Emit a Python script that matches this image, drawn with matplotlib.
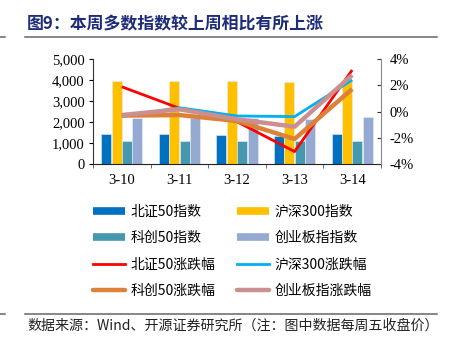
import matplotlib
matplotlib.use("Agg")
import matplotlib.pyplot as plt
from matplotlib.lines import Line2D
import numpy as np

plt.rcParams['font.family'] = ['Noto Sans CJK SC', 'DejaVu Sans']

dates = ['3-10', '3-11', '3-12', '3-13', '3-14']
bz50_idx = [1414, 1414, 1400, 1350, 1410]
hs300_idx = [3965, 3965, 3945, 3930, 4000]
kc50_idx = [1095, 1095, 1090, 1085, 1095]
cyb_idx = [2200, 2185, 2175, 2170, 2230]

bz50_chg = [1.9, 0.26, -0.77, -3.05, 3.18]
hs300_chg = [-0.38, 0.30, -0.33, -0.38, 2.42]
kc50_chg = [-0.30, -0.26, -0.71, -2.09, 1.73]
cyb_chg = [-0.26, 0.18, -0.58, -1.15, 2.80]

bar_names = ['北证50指数', '沪深300指数', '科创50指数', '创业板指指数']
line_names = ['北证50涨跌幅', '沪深300涨跌幅', '科创50涨跌幅', '创业板指涨跌幅']
bar_colors = ['#0070C0', '#FFC000', '#4598AE', '#95AAD3']
line_colors = ['#FF0000', '#00B0F0', '#DD8138', '#CC8F8F']
line_widths = [2.0, 2.0, 3.2, 3.2]

W, H = 452, 350
fig = plt.figure(figsize=(W / 100, H / 100), dpi=100)
ax = fig.add_axes([93 / W, 1 - 164 / H, (381 - 93) / W, (164 - 59.3) / H])

x = np.arange(len(dates))
bw = 0.18
series = [bz50_idx, hs300_idx, kc50_idx, cyb_idx]
for i, (vals, c) in enumerate(zip(series, bar_colors)):
    ax.bar(x + (i - 1.5) * bw, vals, width=bw * 0.97, color=c,
           edgecolor='#E8EEF5', linewidth=0.4, zorder=2)

ax.set_xlim(-0.5, 4.5)
ax.set_ylim(0, 5000)
ax.set_yticks(range(0, 5001, 1000))
ax.set_yticklabels([f'{v:,}' for v in range(0, 5001, 1000)],
                   family='Liberation Serif', fontsize=10.5)
ax.set_xticks(x)
ax.set_xticklabels(dates, family='Liberation Serif', fontsize=10.5)
ax.tick_params(axis='x', length=0, pad=7)
ax.set_xticks(np.arange(-0.5, 4.6, 1), minor=True)
ax.tick_params(axis='x', which='minor', length=3, direction='out', color='#555555')
ax.tick_params(axis='y', length=3, direction='out', pad=3)
ax.spines['top'].set_visible(False)
ax.spines['right'].set_visible(False)
ax.spines['left'].set_color('#333333')
ax.spines['bottom'].set_color('#222222')

ax2 = ax.twinx()
chg = [bz50_chg, hs300_chg, kc50_chg, cyb_chg]
for vals, c, lw in zip(chg, line_colors, line_widths):
    ax2.plot(x, vals, color=c, lw=lw, zorder=3, solid_capstyle='butt')
ax2.set_ylim(-4, 4)
ax2.set_yticks([-4, -2, 0, 2, 4])
ax2.set_yticklabels([f'{v}%' for v in [-4, -2, 0, 2, 4]],
                    family='Liberation Serif', fontsize=10.5)
ax2.tick_params(axis='y', length=3, direction='in', pad=6, color='#333333')
ax2.spines['top'].set_visible(False)
ax2.spines['left'].set_visible(False)
ax2.spines['bottom'].set_visible(False)
ax2.spines['right'].set_color('#888888')

handles = [
    Line2D([], [], color=bar_colors[0], lw=5.5, solid_capstyle='butt'),
    Line2D([], [], color=bar_colors[1], lw=5.5, solid_capstyle='butt'),
    Line2D([], [], color=bar_colors[2], lw=5.5, solid_capstyle='butt'),
    Line2D([], [], color=bar_colors[3], lw=5.5, solid_capstyle='butt'),
    Line2D([], [], color=line_colors[0], lw=2.0),
    Line2D([], [], color=line_colors[1], lw=2.0),
    Line2D([], [], color=line_colors[2], lw=3.2, solid_capstyle='round'),
    Line2D([], [], color=line_colors[3], lw=3.2, solid_capstyle='round'),
]
labels = bar_names + line_names
order = [0, 2, 4, 6, 1, 3, 5, 7]
leg = fig.legend([handles[i] for i in order], [labels[i] for i in order],
                 ncol=2, loc='upper left', bbox_to_anchor=(93 / W, 1 - 205 / H),
                 frameon=False, fontsize=10, handlelength=2.3, handletextpad=0.4,
                 columnspacing=1.55, labelspacing=0.88, borderaxespad=0, borderpad=0)

fig.text(27 / W, 1 - 24 / H, '图9：本周多数指数较上周相比有所上涨', fontsize=12.2,
         fontweight='bold', color='#1F2C7A', va='center', ha='left')
for yy in (37, 314):
    fig.add_artist(Line2D([25 / W, 437 / W], [1 - yy / H, 1 - yy / H],
                          color='#666666', lw=1.1))
    fig.add_artist(Line2D([0, 5 / W], [1 - yy / H, 1 - yy / H],
                          color='#666666', lw=1.1))
fig.text(27 / W, 1 - 326 / H, '数据来源：Wind、开源证券研究所（注：图中数据每周五收盘价）',
         fontsize=10.1, color='#222222', va='center', ha='left')

fig.savefig('out.png', dpi=100)
